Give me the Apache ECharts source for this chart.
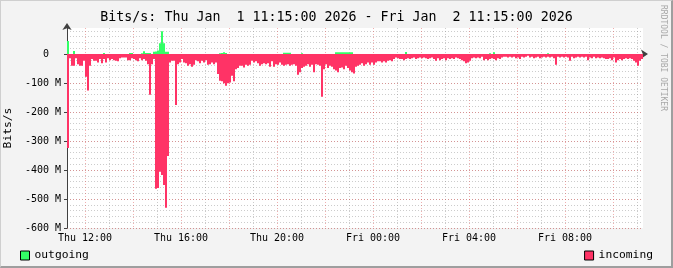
<!DOCTYPE html>
<html>
<head>
<meta charset="utf-8">
<script src="https://cdn.jsdelivr.net/npm/echarts@6/dist/echarts.min.js"></script>
<style>
  html, body { margin: 0; padding: 0; background: #F3F3F3; }
  #wrap { position: relative; width: 673px; height: 268px; }
  #chart { position: absolute; left: 0; top: 0; width: 673px; height: 268px; }
  #frame { position: absolute; left: 0; top: 0; width: 673px; height: 268px; box-sizing: border-box;
           border-top: 1px solid #CFCFCF; border-left: 1px solid #CFCFCF;
           border-right: 2px solid #9E9E9E; border-bottom: 2px solid #9E9E9E; pointer-events: none; }
</style>
</head>
<body>
<div id="wrap"><div id="chart"></div><div id="frame"></div></div>
<script>
// ---- data (Mbit/s), 5-minute slots from Thu Jan 1 11:15 to Fri Jan 2 11:15 ----
const titleText = 'Bits/s: Thu Jan  1 11:15:00 2026 - Fri Jan  2 11:15:00 2026';
const startMinute = 11 * 60 + 15;
const slotMinutes = 5;
const tickLabels = ['Thu 12:00', 'Thu 16:00', 'Thu 20:00', 'Fri 00:00', 'Fri 04:00', 'Fri 08:00'];

const incoming = [
  -324, -14, -40, -40, -14, -35, -40, -40, -23, -78, -126, -40, -17, -23, -23, -29,
  -17, -32, -17, -29, -14, -21, -17, -21, -23, -25, -14, -12, -12, -12, -21, -21,
  -14, -17, -21, -25, -14, -21, -17, -23, -35, -140, -35, -17, -465, -462, -406, -417,
  -452, -530, -352, -29, -23, -23, -176, -35, -29, -17, -29, -32, -40, -35, -44, -37,
  -21, -25, -32, -23, -29, -21, -37, -35, -29, -35, -29, -69, -92, -94, -101, -109,
  -101, -98, -75, -94, -52, -48, -40, -40, -46, -37, -40, -37, -23, -29, -25, -32,
  -40, -35, -32, -35, -32, -44, -25, -44, -35, -37, -29, -37, -40, -37, -35, -40,
  -37, -35, -40, -71, -63, -48, -44, -40, -35, -44, -37, -63, -35, -37, -40, -147,
  -52, -35, -48, -40, -44, -52, -57, -63, -48, -46, -52, -40, -48, -57, -63, -67,
  -44, -40, -37, -32, -40, -35, -29, -37, -29, -37, -29, -25, -25, -29, -25, -29,
  -23, -21, -25, -17, -12, -14, -17, -17, -21, -17, -14, -17, -14, -12, -17, -14,
  -12, -14, -12, -14, -17, -14, -12, -17, -23, -14, -21, -17, -14, -21, -14, -17,
  -14, -17, -12, -14, -17, -21, -25, -32, -29, -23, -14, -12, -14, -12, -14, -9,
  -21, -17, -21, -17, -14, -17, -21, -14, -17, -12, -9, -9, -12, -9, -12, -9,
  -14, -12, -17, -9, -12, -9, -6, -12, -9, -14, -12, -9, -14, -12, -9, -12,
  -9, -12, -9, -14, -37, -9, -12, -9, -12, -9, -12, -23, -9, -14, -12, -9,
  -12, -9, -12, -9, -21, -12, -14, -9, -14, -12, -14, -12, -14, -17, -17, -14,
  -21, -12, -29, -21, -17, -21, -17, -14, -17, -14, -17, -23, -29, -40, -23, -17
];

const outgoing = [
  45, 0, 0, 11, 0, 0, 0, 0, 0, 0, 0, 0, 0, 0, 0, 0,
  0, 0, 4, 0, 0, 0, 0, 0, 0, 0, 0, 0, 0, 0, 0, 4,
  4, 0, 0, 0, 0, 3, 10, 4, 4, 4, 0, 8, 9, 12, 37, 79,
  37, 8, 8, 0, 0, 0, 0, 0, 0, 0, 0, 0, 0, 0, 0, 0,
  0, 0, 0, 0, 0, 0, 0, 0, 0, 0, 0, 0, 3, 4, 6, 4,
  0, 0, 0, 0, 0, 0, 0, 0, 0, 0, 0, 0, 0, 0, 0, 0,
  0, 0, 0, 0, 0, 0, 0, 0, 0, 0, 0, 0, 5, 5, 5, 5,
  0, 0, 0, 0, 0, 3, 0, 0, 0, 0, 0, 0, 0, 0, 0, 0,
  0, 0, 0, 0, 0, 0, 6, 6, 6, 6, 6, 6, 6, 6, 6, 0,
  0, 0, 0, 0, 0, 0, 0, 0, 0, 0, 0, 0, 0, 0, 0, 0,
  0, 0, 0, 0, 0, 0, 0, 0, 0, 7, 0, 0, 0, 0, 0, 0,
  0, 0, 0, 0, 0, 0, 0, 0, 0, 0, 0, 0, 0, 0, 0, 0,
  0, 0, 0, 0, 0, 0, 0, 0, 0, 0, 0, 0, 0, 0, 0, 0,
  0, 0, 0, 3, 0, 6, 0, 0, 0, 0, 0, 0, 0, 0, 0, 0,
  0, 0, 0, 0, 0, 0, 0, 0, 0, 0, 0, 0, 0, 0, 0, 0,
  3, 0, 0, 0, 0, 0, 0, 0, 0, 0, 0, 0, 0, 0, 0, 0,
  0, 0, 0, 0, 0, 0, 0, 0, 0, 0, 0, 0, 0, 0, 0, 0,
  0, 0, 0, 0, 0, 0, 0, 0, 0, 0, 0, 0, 0, 0, 0, 0
];

// ---- slot boundary categories (289 boundaries for 288 slots) ----
function pad(n) { return (n < 10 ? '0' : '') + n; }
const categories = [];
for (let i = 0; i <= incoming.length; i++) {
  const m = startMinute + i * slotMinutes;
  const day = m >= 1440 ? 'Fri' : 'Thu';
  const mm = m % 1440;
  categories.push(day + ' ' + pad(Math.floor(mm / 60)) + ':' + pad(mm % 60));
}
// [slot start index, value] pairs
const incomingData = incoming.map(function (v, i) { return [i, v]; });
const outgoingData = outgoing.map(function (v, i) { return [i, v]; });

function isHour(v) { return v.slice(-3) === ':00'; }
function hourOf(v) { return parseInt(v.slice(4, 6), 10); }

const MONO = 'DejaVu Sans Mono';
const GREEN = '#33FF66';
const RED = '#FF3366';
const MGRID = 'rgba(222,80,80,0.45)';
const GRID = 'rgba(143,143,143,0.45)';
const AXIS = '#404040';

// one filled column per 5-minute slot, from the slot's start boundary to the next one
function makeRender(color) {
  return function (params, api) {
    const i = api.value(0);
    const v = api.value(1);
    if (!v) { return null; }
    const p0 = api.coord([i, 0]);
    const p1 = api.coord([i + 1, v]);
    const y = Math.min(p0[1], p1[1]);
    return {
      type: 'rect',
      shape: { x: p0[0], y: y, width: p1[0] - p0[0], height: Math.abs(p1[1] - p0[1]) },
      style: { fill: color },
      silent: true
    };
  };
}

const chart = echarts.init(document.getElementById('chart'), null, { renderer: 'canvas' });
chart.setOption({
  animation: false,
  backgroundColor: 'transparent',
  title: {
    text: titleText, left: 'center', top: 11, padding: 0,
    textStyle: { fontFamily: MONO, fontSize: 13.3, fontWeight: 'normal', color: '#000' }
  },
  grid: { left: 67, right: 30, top: 28, bottom: 40, show: true, backgroundColor: '#FFFFFF', borderWidth: 0,
          containLabel: false, outerBoundsMode: 'none' },
  legend: [
    {
      data: ['outgoing'], left: 15, top: 245, itemWidth: 9, itemHeight: 9, selectedMode: false,
      icon: 'rect', textStyle: { fontFamily: MONO, fontSize: 11.3, color: '#000' },
      itemStyle: { color: GREEN, borderColor: '#000', borderWidth: 1 }
    },
    {
      data: ['incoming'], right: 15, top: 245, itemWidth: 9, itemHeight: 9, selectedMode: false,
      icon: 'rect', textStyle: { fontFamily: MONO, fontSize: 11.3, color: '#000' },
      itemStyle: { color: RED, borderColor: '#000', borderWidth: 1 }
    }
  ],
  xAxis: [
    {
      type: 'category', data: categories, boundaryGap: false,
      axisLine: { show: true, lineStyle: { color: AXIS, width: 1 }, symbol: ['none', 'arrow'], symbolSize: [7, 7], symbolOffset: [0, 5] },
      axisTick: { show: true, length: 2, lineStyle: { color: AXIS }, interval: function (i, v) { return isHour(v) && hourOf(v) % 2 === 0; } },
      axisLabel: {
        interval: function (i, v) { return tickLabels.indexOf(v) >= 0; },
        fontFamily: MONO, fontSize: 10, color: '#000', margin: 5
      },
      splitLine: { show: true, interval: function (i, v) { return isHour(v) && hourOf(v) % 2 === 0; }, lineStyle: { color: MGRID, type: [1, 2], width: 1 } }
    },
    {
      type: 'category', data: categories, boundaryGap: false, position: 'bottom',
      axisLine: { show: false }, axisTick: { show: false }, axisLabel: { show: false },
      splitLine: { show: true, interval: function (i, v) { return isHour(v) && hourOf(v) % 2 === 1; }, lineStyle: { color: GRID, type: [1, 2], width: 1 } }
    }
  ],
  yAxis: [
    {
      type: 'value', min: -600, max: 90, interval: 100, z: 1,
      name: 'Bits/s', nameLocation: 'middle', nameGap: 52, nameRotate: 90,
      nameTextStyle: { fontFamily: MONO, fontSize: 11.3, color: '#000' },
      axisLine: { show: true, lineStyle: { color: AXIS, width: 1 }, symbol: ['none', 'arrow'], symbolSize: [7, 7], symbolOffset: [0, 5] },
      axisTick: { show: true, length: 3, lineStyle: { color: AXIS } },
      axisLabel: {
        showMaxLabel: false, fontFamily: MONO, fontSize: 10, color: '#000', margin: 6,
        formatter: function (v) { return v === 0 ? '0  ' : v + ' M'; }
      },
      splitLine: { show: true, showMaxLine: false, lineStyle: { color: MGRID, type: [1, 2], width: 1 } }
    },
    {
      type: 'value', min: -600, max: 90, interval: 20,
      axisLine: { show: false }, axisTick: { show: false }, axisLabel: { show: false },
      splitLine: { show: true, showMaxLine: false, lineStyle: { color: GRID, type: [1, 2], width: 1 } }
    }
  ],
  series: [
    {
      name: 'outgoing', type: 'custom', data: outgoingData, renderItem: makeRender(GREEN),
      encode: { x: 0, y: 1 }, itemStyle: { color: GREEN }, silent: true, clip: true
    },
    {
      name: 'incoming', type: 'custom', data: incomingData, renderItem: makeRender(RED),
      encode: { x: 0, y: 1 }, itemStyle: { color: RED }, silent: true, clip: true
    }
  ],
  graphic: [
    {
      type: 'text', x: 667, y: 5, rotation: -Math.PI / 2, silent: true,
      style: { text: 'RRDTOOL / TOBI OETIKER', font: '8px "DejaVu Sans Mono"', fill: '#A8A8A8', verticalAlign: 'top', align: 'left' }
    }
  ]
});
</script>
</body>
</html>
